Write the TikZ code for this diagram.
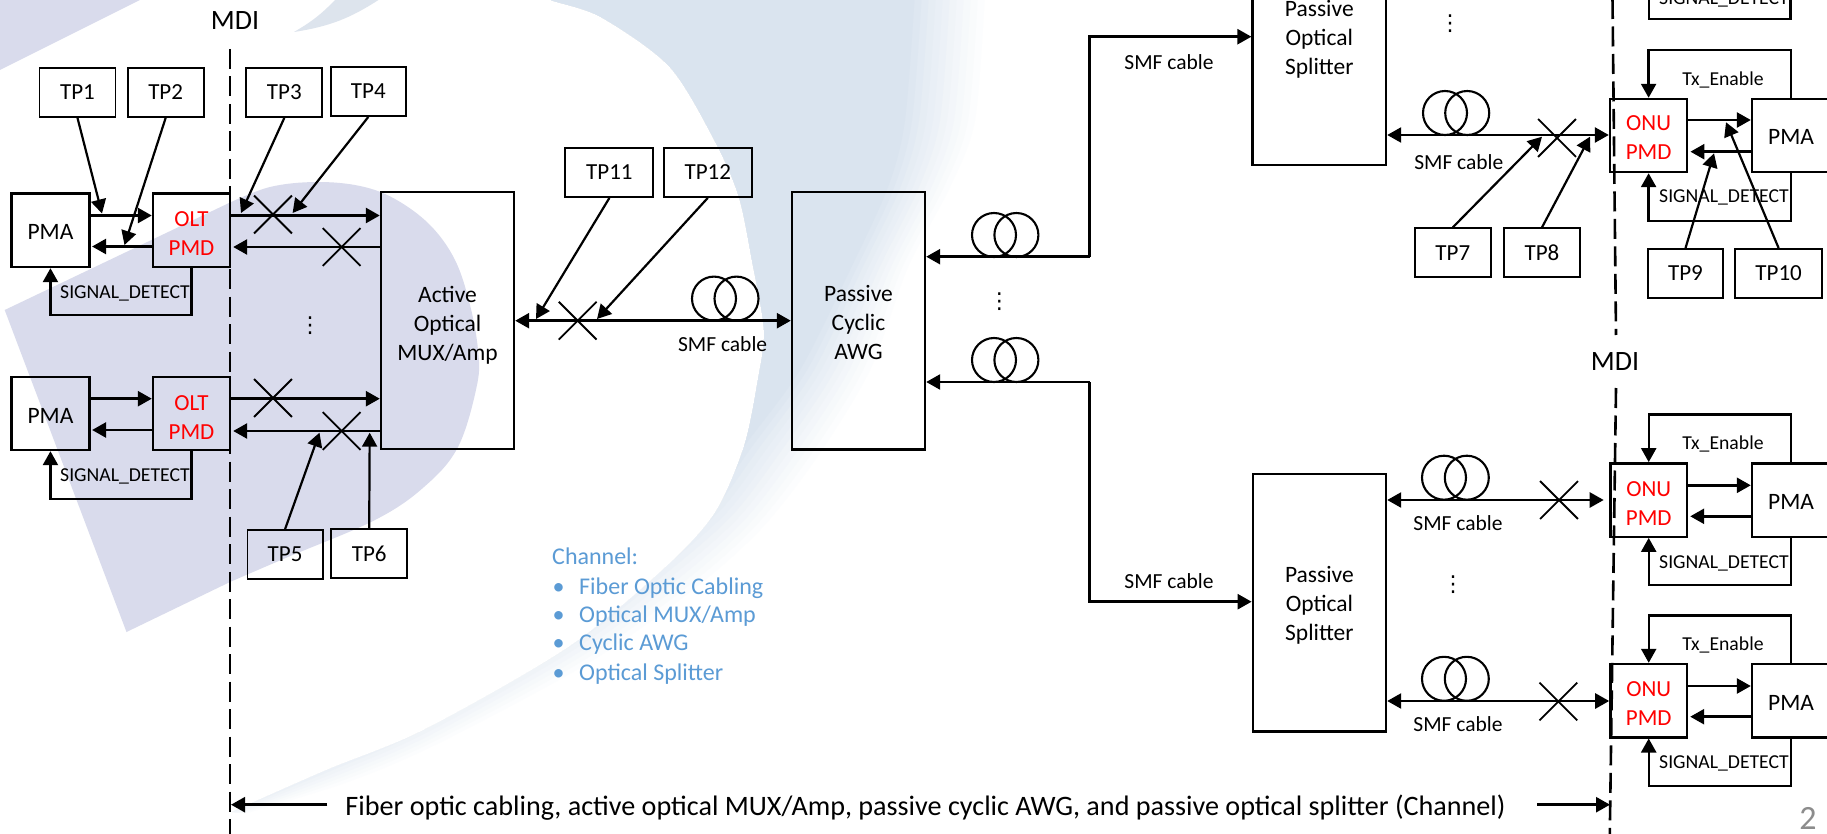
\documentclass[tikz,border=0pt]{standalone}
\usepackage{fontspec}
\setmainfont{Carlito}
\newfontfamily\dotsfont{DejaVu Sans}
\usetikzlibrary{arrows.meta,calc,shapes.misc}
\definecolor{lav}{HTML}{D9DBEC}
\definecolor{swoosh}{HTML}{DAE4EF}
\definecolor{tipc}{HTML}{DDE4ED}
\definecolor{chan}{HTML}{5B9BD5}
\definecolor{pgnum}{HTML}{8C8C8C}
\tikzset{
  arr/.style={line width=2.6pt,-{Triangle[length=14pt,width=15pt]}},
  biarr/.style={line width=2.6pt,{Triangle[length=14pt,width=15pt]}-{Triangle[length=14pt,width=15pt]}},
  tparr/.style={line width=2.2pt,-{Triangle[length=14pt,width=15pt]}},
  loopline/.style={line width=2.4pt,-{Triangle[length=14pt,width=15pt]}},
  mdi/.style={line width=2.6pt,dash pattern=on 20pt off 7.5pt},
  bigbox/.style={draw,line width=2.4pt,inner sep=0pt,align=center,font=\fontsize{23.5}{29}\selectfont},
  tpbox/.style={draw,line width=1.9pt,inner sep=0pt,font=\fontsize{23}{29}\selectfont},
  pmd/.style={draw,line width=2.4pt,inner sep=0pt,align=center,text=red,font=\fontsize{23}{29}\selectfont},
  tiny/.style={inner sep=0pt,font=\fontsize{19.7}{24}\selectfont,text height=15pt,text depth=2.4pt},
  smf/.style={inner sep=0pt,font=\fontsize{21.5}{26}\selectfont,text height=16pt,text depth=2.5pt},
  xmark/.style={draw,cross out,line width=1.8pt,inner sep=0pt,minimum size=36pt},
  coil/.style={draw,circle,line width=2.1pt,inner sep=0pt,minimum size=44pt},
  vdots/.style={inner sep=0pt,font=\dotsfont\fontsize{22}{24}\selectfont},
  chtext/.style={inner sep=0pt,anchor=west,text=chan,font=\fontsize{24}{28}\selectfont,text height=18pt,text depth=2.9pt},
  bigtext/.style={inner sep=0pt,font=\fontsize{28.15}{32}\selectfont,text height=21pt,text depth=3.3pt},
  mditext/.style={inner sep=0pt,font=\fontsize{28}{30}\selectfont},
}
\newcommand{\bx}[7][]{%
  \pgfmathsetmacro{\bxw}{#4-#2}\pgfmathsetmacro{\bxh}{#5-#3}%
  \node[#1,minimum width=\bxw pt,minimum height=\bxh pt] (#6) at ({(#2+#4)/2},{(#3+#5)/2}) {#7};}
\newcommand{\dn}[1]{\rule{0pt}{\dimexpr 15pt+#1pt+#1pt\relax}}
\newcommand{\swin}{(540,-8) (551,0) (601,17) (670,67) (716,143) (739,197) (752,260) (764,330) (758,380) (744,447) (715,513) (666,567) (569,647) (424,730) (327,770) (232,812)}
\begin{document}
\begin{tikzpicture}[x=1pt,y=-1pt]
\useasboundingbox (0,0) rectangle (1827,834);
\clip (0,0) rectangle (1827,834);
\fill[white] (0,0) rectangle (1827,834);
% ---- watermark
\fill[lav] (0,-1) -- (142,-1) -- (0,70) -- cycle;
\fill[tipc] (336,-1) to[bend left=8] (294,32) to[bend right=12] (380,-1) -- cycle;
\coordinate (m1) at (228,806); \coordinate (o1) at (240,815);
\coordinate (m2) at (318,758); \coordinate (o2) at (345,783);
\coordinate (m3) at (412,715); \coordinate (o3) at (435,745);
\coordinate (m4) at (555,628); \coordinate (o4) at (585,665);
\coordinate (m5) at (650,548); \coordinate (o5) at (690,592);
\coordinate (m6) at (705,500); \coordinate (o6) at (760,530);
\coordinate (m7) at (745,445); \coordinate (o7) at (815,460);
\coordinate (m8) at (800,370); \coordinate (o8) at (870,370);
\coordinate (m9) at (850,270); \coordinate (o9) at (908,267);
\coordinate (m10) at (888,187); \coordinate (o10) at (950,187);
\coordinate (m11) at (905,120); \coordinate (o11) at (975,120);
\coordinate (m12) at (915,-8); \coordinate (o12) at (985,-8);
\begin{scope}
\clip plot[smooth] coordinates {\swin} -- (1200,900) -- (1200,-10) -- cycle;
\foreach \ft/\fc in {1/8,.9/16,.8/24,.7/32,.6/41,.5/50,.4/59,.3/68,.2/77,.1/88,0/100}{
  \fill[swoosh!\fc!white] plot[smooth] coordinates {($(m1)!\ft!(o1)$) ($(m2)!\ft!(o2)$) ($(m3)!\ft!(o3)$) ($(m4)!\ft!(o4)$) ($(m5)!\ft!(o5)$) ($(m6)!\ft!(o6)$) ($(m7)!\ft!(o7)$) ($(m8)!\ft!(o8)$) ($(m9)!\ft!(o9)$) ($(m10)!\ft!(o10)$) ($(m11)!\ft!(o11)$) ($(m12)!\ft!(o12)$)} -- (200,-10) -- (200,815) -- cycle;
}
\end{scope}
\fill[lav] plot[smooth,tension=.6] coordinates {(229,203) (270,187) (316,182) (360,186) (395,199) (430,225) (455,260) (470,305) (478,350) (477,385) (458,447) (424,487) (375,520) (288,557) (230,582)}
  -- (126.5,632) -- (4.7,310) -- cycle;
% ---- MDI lines
\coordinate (mdiLt) at (230,49); \coordinate (mdiLb) at (230,834);
\draw[mdi] (mdiLt) -- (mdiLb);
\coordinate (mdiRa) at (1612.5,-1); \coordinate (mdiRb) at (1616,335);
\coordinate (mdiRc) at (1616,388); \coordinate (mdiRd) at (1609.8,834);
\draw[mdi] (mdiRa) -- (mdiRb);
\draw[mdi] (mdiRc) -- (mdiRd);
\node[mditext] (mdiL) at (235,21) {MDI};
\node[mditext] (mdiR) at (1615,362) {MDI};
% ---- left side boxes
\bx[tpbox]{39.5}{68}{115.5}{117}{tp1}{TP1}
\bx[tpbox]{127.7}{68}{203.6}{117}{tp2}{TP2}
\bx[tpbox]{246.3}{68}{322.3}{117}{tp3}{TP3}
\bx[tpbox]{330.6}{67}{406}{116}{tp4}{TP4}
\bx[bigbox]{11.5}{193.5}{89.4}{267}{pmaA}{\dn{2}PMA}
\bx[pmd]{153}{193.5}{230}{267}{oltA}{\dn{3.5}OLT\\PMD}
\bx[bigbox]{11.5}{377}{89.4}{450}{pmaB}{\dn{2}PMA}
\bx[pmd]{153}{377}{230}{450}{oltB}{\dn{3.5}OLT\\PMD}
\bx[bigbox]{381}{192}{514}{449}{mux}{\dn{5}Active\\Optical\\MUX/Amp}
\bx[tpbox]{247.5}{530}{322.7}{578.7}{tp5}{TP5}
\bx[tpbox]{331.4}{529}{407}{578}{tp6}{TP6}
\bx[tpbox]{565.4}{148}{653.4}{197}{tp11}{TP11}
\bx[tpbox]{663.7}{148}{751.8}{197}{tp12}{TP12}
\bx[bigbox]{792}{192}{925}{449.5}{awg}{\dn{2}Passive\\Cyclic\\AWG}
% PMA <-> OLT
\draw[arr] (pmaA.east |- 0,215.5) -- (oltA.west |- 0,215.5);
\draw[arr] (oltA.west |- 0,246.5) -- ([xshift=1.5pt]pmaA.east |- 0,246.5);
\draw[arr] (pmaB.east |- 0,398.7) -- (oltB.west |- 0,398.7);
\draw[arr] (oltB.west |- 0,430) -- ([xshift=1.5pt]pmaB.east |- 0,430);
% signal detect, left
\draw[loopline] (oltA.south) -- ++(0,47) -| (pmaA.south);
\draw[loopline] (oltB.south) -- ++(0,48) -| (pmaB.south);
\node[tiny] (sdA) at (125,292) {SIGNAL\_DETECT};
\node[tiny] (sdB) at (125,475) {SIGNAL\_DETECT};
% OLT <-> MUX
\draw[arr] (oltA.east |- 0,215.5) -- (mux.west |- 0,215.5);
\draw[arr] (mux.west |- 0,247) -- ([xshift=2pt]oltA.east |- 0,247);
\draw[arr] (oltB.east |- 0,398.7) -- (mux.west |- 0,398.7);
\draw[arr] (mux.west |- 0,431) -- ([xshift=2pt]oltB.east |- 0,431);
\node[xmark] (xa) at (273,214.5) {};
\node[xmark] (xb) at (341.6,247) {};
\node[xmark] (xc) at (273,398) {};
\node[xmark] (xd) at (341.6,431) {};
\node[vdots] (dotsA) at (310,325.7) {⋮};
% TP arrows, left
\coordinate (c1) at (102,213.5); \coordinate (c2) at (124.5,245);
\coordinate (c3) at (241,213); \coordinate (c4) at (292.6,213);
\coordinate (c5) at (319.5,432.7); \coordinate (c6) at (369.7,432.7);
\draw[tparr] (tp1.south) -- (c1);
\draw[tparr] (tp2.south) -- (c2);
\draw[tparr] (tp3.south) -- (c3);
\draw[tparr] (tp4.south) -- (c4);
\draw[tparr] (tp5.north) -- (c5);
\draw[tparr] (tp6.north) -- (c6);
% MUX -- AWG
\draw[biarr] (mux.east |- 0,320.7) -- (awg.west |- 0,320.7);
\node[xmark] (xe) at (577.7,320.7) {};
\node[coil] (ca1) at (714,298.6) {};
\node[coil] (ca2) at (736.5,298.6) {};
\node[smf] (smfA) at (722.6,345) {SMF cable};
\coordinate (c11) at (536,319); \coordinate (c12) at (597,319);
\draw[tparr] (tp11.south) -- (c11);
\draw[tparr] (tp12.south) -- (c12);
% Channel text
\node[chtext] (chT) at (552,556.7) {Channel:};
\node[chtext] (b1) at (552.5,586.7) {•};
\node[chtext] (b2) at (552.5,615) {•};
\node[chtext] (b3) at (552.5,643) {•};
\node[chtext] (b4) at (552.5,672.7) {•};
\node[chtext] (l1) at (579,586.7) {Fiber Optic Cabling};
\node[chtext] (l2) at (579,615) {Optical MUX/Amp};
\node[chtext] (l3) at (579,643) {Cyclic AWG};
\node[chtext] (l4) at (579,672.7) {Optical Splitter};
% AWG to splitters
\bx[bigbox]{1252.6}{-92}{1386}{165.3}{splA}{\dn{3.5}Passive\\Optical\\Splitter}
\bx[bigbox]{1252.8}{474}{1386}{731.3}{splB}{\dn{3}Passive\\Optical\\Splitter}
\coordinate (turnA) at (1089.5,256.7); \coordinate (turnB) at (1089.5,382);
\draw[arr] (turnA) -- (awg.east |- turnA);
\draw[arr] (turnA) |- (splA.west |- 0,36.7);
\draw[arr] (turnB) -- (awg.east |- turnB);
\draw[arr] (turnB) |- (splB.west |- 0,601.7);
\node[coil] (cb1) at (994,235) {};
\node[coil] (cb2) at (1016.4,235) {};
\node[coil] (cc1) at (994,360) {};
\node[coil] (cc2) at (1016.4,360) {};
\node[smf] (smfB) at (1169,63) {SMF cable};
\node[smf] (smfC) at (1169,581.5) {SMF cable};
\node[vdots] (dotsB) at (999.4,301.7) {⋮};
\node[vdots] (dotsC) at (1450,24) {⋮};
\node[vdots] (dotsD) at (1453,585) {⋮};
% ONU / PMA
\bx[pmd]{1610}{99}{1687.2}{172}{onuA}{\dn{2.5}ONU\\PMD}
\bx[bigbox]{1752}{99}{1830}{172}{pmA}{\dn{2}PMA}
\bx[pmd]{1610.4}{463.3}{1687}{536.7}{onuB}{\dn{3}ONU\\PMD}
\bx[bigbox]{1752}{463.3}{1830}{536.7}{pmB}{\dn{2}PMA}
\bx[pmd]{1610.4}{664}{1687}{737.3}{onuC}{\dn{3}ONU\\PMD}
\bx[bigbox]{1752}{664}{1830}{737.3}{pmC}{\dn{2}PMA}
\draw[biarr] (splA.east |- 0,135) -- (onuA.west |- 0,135);
\draw[biarr] (splB.east |- 0,500) -- ([xshift=-5.5pt]onuB.west |- 0,500);
\draw[biarr] (splB.east |- 0,701) -- (onuC.west |- 0,701);
\node[xmark] (xf) at (1557,138) {};
\node[xmark] (xg) at (1559,500) {};
\node[xmark] (xh) at (1558.4,701.5) {};
\node[coil] (cd1) at (1445,113) {};
\node[coil] (cd2) at (1467.2,113) {};
\node[coil] (ce1) at (1444,477.7) {};
\node[coil] (ce2) at (1466.8,477.7) {};
\node[coil] (cf1) at (1444,678.8) {};
\node[coil] (cf2) at (1466.8,678.8) {};
\node[smf] (smfD) at (1458.8,162.3) {SMF cable};
\node[smf] (smfE) at (1458,524) {SMF cable};
\node[smf] (smfF) at (1458,725) {SMF cable};
% ONU <-> PMA arrows
\draw[arr] (onuA.east |- 0,120) -- (pmA.west |- 0,120);
\draw[arr] (pmA.west |- 0,151.7) -- ([xshift=2pt]onuA.east |- 0,151.7);
\draw[arr] (onuB.east |- 0,485.3) -- (pmB.west |- 0,485.3);
\draw[arr] (pmB.west |- 0,516.3) -- ([xshift=2pt]onuB.east |- 0,516.3);
\draw[arr] (onuC.east |- 0,686) -- (pmC.west |- 0,686);
\draw[arr] (pmC.west |- 0,716.7) -- ([xshift=2pt]onuC.east |- 0,716.7);
% Tx_Enable and SIGNAL_DETECT loops
\draw[loopline] (pmA.north) -- ++(0,-48) -| (onuA.north);
\draw[loopline] (pmA.south) -- ++(0,47.7) -| (onuA.south);
\draw[loopline] (pmB.north) -- ++(0,-47.6) -| (onuB.north);
\draw[loopline] (pmB.south) -- ++(0,47.3) -| (onuB.south);
\draw[loopline] (pmC.north) -- ++(0,-47.3) -| (onuC.north);
\draw[loopline] (pmC.south) -- ++(0,47.7) -| (onuC.south);
\coordinate (topL) at (1648.8,-2); \coordinate (topR) at (1790.5,-2);
\coordinate (topB) at (1648.8,19.3); \coordinate (topC) at (1790.5,19.3);
\draw[line width=2.4pt] (topL) -- (topB) -- (topC) -- (topR);
\node[tiny] (txA) at (1723,79) {Tx\_Enable};
\node[tiny] (txB) at (1723,443.3) {Tx\_Enable};
\node[tiny] (txC) at (1723,644.3) {Tx\_Enable};
\node[tiny] (sdC) at (1724,-2) {SIGNAL\_DETECT};
\node[tiny] (sdD) at (1724,196.7) {SIGNAL\_DETECT};
\node[tiny] (sdE) at (1724,561.7) {SIGNAL\_DETECT};
\node[tiny] (sdF) at (1724,761.7) {SIGNAL\_DETECT};
% TP arrows, right
\bx[tpbox]{1414.8}{228.3}{1490.8}{277.3}{tp7}{TP7}
\bx[tpbox]{1504}{228.3}{1580}{277.3}{tp8}{TP8}
\bx[tpbox]{1648}{249}{1723}{297.7}{tp9}{TP9}
\bx[tpbox]{1734.8}{249}{1822.4}{297.7}{tp10}{TP10}
\coordinate (c7) at (1542,136.7); \coordinate (c8) at (1590,136.7);
\coordinate (c9) at (1714,153.3); \coordinate (c10) at (1726,122.3);
\draw[tparr] (tp7.north) -- (c7);
\draw[tparr] (tp8.north) -- (c8);
\draw[tparr] (tp9.north) -- (c9);
\draw[tparr] (tp10.north) -- (c10);
% bottom span
\node[bigtext] (span) at (925.5,806.7) {Fiber optic cabling, active optical MUX/Amp, passive cyclic AWG, and passive optical splitter (Channel)};
\coordinate (spL) at (231,804.7); \coordinate (spR) at (1610,804.7);
\coordinate (spLs) at (327.4,804.7); \coordinate (spRs) at (1537,804.7);
\draw[arr] (spLs) -- (spL);
\draw[arr] (spRs) -- (spR);
\node[inner sep=0pt,text=pgnum,font=\fontsize{34}{38}\selectfont] (pg) at (1808,818) {2};
\end{tikzpicture}
\end{document}
